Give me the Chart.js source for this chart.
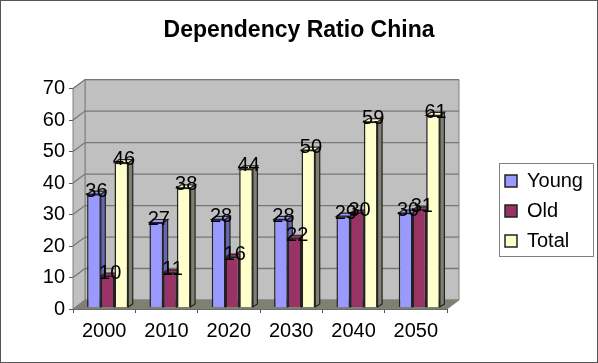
<!DOCTYPE html>
<html lang="en">
<head>
  <meta charset="UTF-8">
  <title>Dependency Ratio China</title>
  <script src="https://cdn.jsdelivr.net/npm/chart.js"></script>
  <style>
    html,body{margin:0;padding:0;background:#fff;}
    canvas{display:block;}
  </style>
</head>
<body>
  <canvas id="chart" width="598" height="363"></canvas>
  <script>
    const years = ['2000','2010','2020','2030','2040','2050'];
    const young = [36,27,28,28,29,30];
    const old = [10,11,16,22,30,31];
    const total = [46,38,44,50,59,61];
    const yTicks = [0,10,20,30,40,50,60,70];

    const font = 'Arial, "Liberation Sans", sans-serif';
    // 3d depth of the walls and of the bars
    const wallDx = 12, wallDy = 9;
    const barDx = 4.5, barDy = 3;
    const shiftX = 3.5, shiftY = -1.5;

    function poly(ctx, pts, fill, stroke, lw){
      ctx.beginPath();
      pts.forEach((p,i)=> i ? ctx.lineTo(p[0],p[1]) : ctx.moveTo(p[0],p[1]));
      ctx.closePath();
      if(fill){ctx.fillStyle=fill;ctx.fill();}
      if(stroke){ctx.strokeStyle=stroke;ctx.lineWidth=lw||1;ctx.stroke();}
    }

    // walls, floor and gridlines behind the bars
    const walls = {
      id:'walls',
      beforeDatasetsDraw(chart){
        const {ctx,chartArea:a,scales:{y}} = chart;
        ctx.save();
        poly(ctx,[[a.left+wallDx,a.top-wallDy],[a.right+wallDx,a.top-wallDy],[a.right+wallDx,a.bottom-wallDy],[a.left+wallDx,a.bottom-wallDy]],'#c0c0c0','#808080',1);
        poly(ctx,[[a.left,a.top],[a.left+wallDx,a.top-wallDy],[a.left+wallDx,a.bottom-wallDy],[a.left,a.bottom]],'#c0c0c0','#808080',1);
        poly(ctx,[[a.left,a.bottom],[a.left+wallDx,a.bottom-wallDy],[a.right+wallDx,a.bottom-wallDy],[a.right,a.bottom]],'#808070','#808080',1);
        ctx.strokeStyle='#777';
        ctx.lineWidth=1.3;
        yTicks.forEach(t=>{
          if(t===0) return;
          const py=y.getPixelForValue(t);
          ctx.beginPath();
          ctx.moveTo(a.left,py);
          ctx.lineTo(a.left+wallDx,py-wallDy);
          ctx.lineTo(a.right+wallDx,py-wallDy);
          ctx.stroke();
        });
        ctx.restore();
      }
    };

    // side and top faces go under every front face, the library draws the fronts
    const bars3d = {
      id:'bars3d',
      beforeDatasetsDraw(chart){
        const ctx=chart.ctx;
        ctx.save();
        ctx.translate(shiftX,shiftY);
        years.forEach((_,i)=>{
          chart.data.datasets.forEach((ds,d)=>{
            const b=chart.getDatasetMeta(d).data[i];
            const l=b.x-b.width/2, r=b.x+b.width/2;
            poly(ctx,[[r,b.y],[r+barDx,b.y-barDy],[r+barDx,b.base-barDy],[r,b.base]],ds.sideColor,'#222',1.2);
            poly(ctx,[[l,b.y],[l+barDx,b.y-barDy],[r+barDx,b.y-barDy],[r,b.y]],ds.backgroundColor,'#222',1.2);
          });
        });
        ctx.restore();
      },
      beforeDatasetDraw(chart){
        chart.ctx.save();
        chart.ctx.translate(shiftX,shiftY);
      },
      afterDatasetDraw(chart){
        chart.ctx.restore();
      },
      afterDatasetsDraw(chart){
        const ctx=chart.ctx;
        ctx.save();
        ctx.fillStyle='#000';
        ctx.font='20px '+font;
        ctx.textAlign='center';
        ctx.textBaseline='middle';
        chart.data.datasets.forEach((ds,d)=>{
          chart.getDatasetMeta(d).data.forEach((b,i)=>{
            ctx.fillText(ds.data[i],b.x+shiftX+2.5,b.y+shiftY-3);
          });
        });
        ctx.restore();
      }
    };

    // title and legend are not where the layout wants them, move them here
    const frames = {
      id:'frames',
      afterLayout(chart){
        const lg=chart.legend, t=chart.titleBlock;
        lg.left=495; lg.right=598; lg.top=161; lg.bottom=300;
        t.left=0; t.right=598;
      },
      afterDraw(chart){
        const ctx=chart.ctx;
        ctx.save();
        ctx.lineWidth=1;
        ctx.strokeStyle='#808080';
        ctx.strokeRect(499.5,163.5,94,93);
        ctx.strokeStyle='#555';
        ctx.strokeRect(.5,.5,597,362);
        ctx.restore();
      }
    };

    new Chart(document.getElementById('chart'),{
      type:'bar',
      data:{
        labels:years,
        datasets:[
          {label:'Young',data:young,backgroundColor:'#9999ff',sideColor:'#6666b3',borderColor:'#222',borderWidth:1.5},
          {label:'Old',data:old,backgroundColor:'#993366',sideColor:'#662244',borderColor:'#222',borderWidth:1.5},
          {label:'Total',data:total,backgroundColor:'#ffffcc',sideColor:'#808070',borderColor:'#222',borderWidth:1.5}
        ]
      },
      plugins:[walls,bars3d,frames],
      options:{
        responsive:false,
        animation:false,
        layout:{padding:{top:0,left:0,right:53,bottom:0}},
        datasets:{bar:{categoryPercentage:.66,barPercentage:1}},
        plugins:{
          tooltip:{enabled:false},
          title:{display:true,text:'Dependency Ratio China',color:'#000',
            font:{family:font,size:23,weight:'bold'},padding:{top:17,bottom:44}},
          legend:{position:'right',align:'start',
            labels:{color:'#000',font:{family:font,size:20},boxWidth:12,boxHeight:12,padding:10}}
        },
        scales:{
          x:{
            grid:{drawOnChartArea:false,tickLength:4,color:'#555',offset:true},
            border:{color:'#555'},
            ticks:{color:'#000',font:{family:font,size:20},padding:6,maxRotation:0},
            afterFit(s){s.height=54;}
          },
          y:{
            min:0,max:70,
            afterBuildTicks(s){s.ticks=yTicks.map(v=>({value:v}));},
            grid:{drawOnChartArea:false,tickLength:4,color:'#555'},
            border:{color:'#555'},
            ticks:{color:'#000',font:{family:font,size:20},padding:4},
            afterFit(s){s.width=73;}
          }
        }
      }
    });
  </script>
</body>
</html>
